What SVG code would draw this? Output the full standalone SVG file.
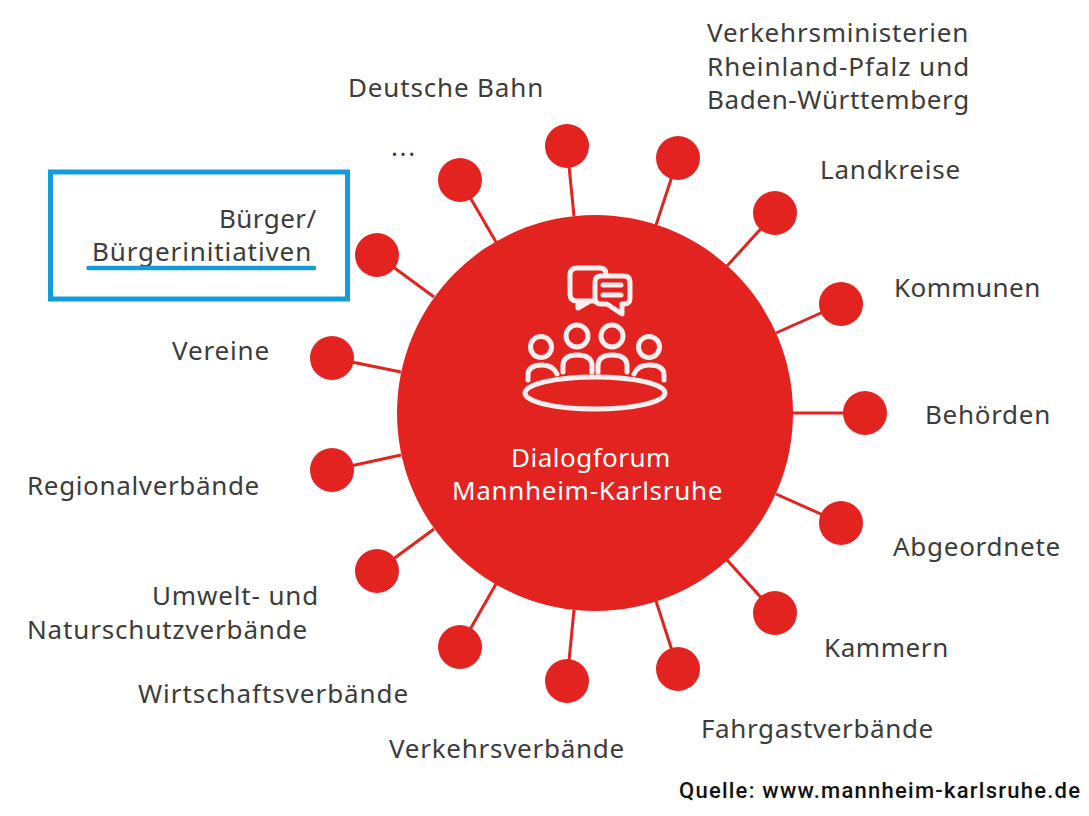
<svg xmlns="http://www.w3.org/2000/svg" width="1089" height="816" viewBox="0 0 1089 816">
<style>
.c{stroke:#e2231f;stroke-width:3;fill:none}
.s{fill:#e2231f}
.t{font-family:"Noto Sans","Liberation Sans",sans-serif;font-size:26px;fill:#3c3c3b;letter-spacing:.8px}
.w{font-family:"Noto Sans","Liberation Sans",sans-serif;font-size:26px;fill:#fff;letter-spacing:.6px}
.i{fill:none;stroke:#fbeeee;stroke-width:5;stroke-linejoin:round;stroke-linecap:round}
</style>
<rect width="1089" height="816" fill="#fff"/>
<g id="connectors">
<path class="c" d="M567 146L574 216M678 158L656 225M775 213L727 266M841 304L776 333M864 413L793 413M841 523L776 494M775 613L727 560M678 669L656 601M567 681L574 610M460 647L496 584M377 571L434 529M332 470L401 455M332 358L401 372M377 255L434 297M460 180L496 242"/>
</g>
<g id="hub">
<circle class="s" cx="595" cy="413" r="198"/>
<g id="icon">
<path class="i" d="M593 301H577Q570 301 570 294V275Q570 268 577 268H600Q606 268 606 274M578 301V308L590 301"/>
<path class="i" d="M601 276H624Q630 276 630 282V298Q630 304 624 304H622V314L607 304H601Q595 304 595 298V282Q595 276 601 276Z"/>
<path class="i" d="M603 285H621M603 295H621"/>
<circle class="i" cx="541" cy="347" r="10.500"/><circle class="i" cx="577" cy="336" r="11"/><circle class="i" cx="612" cy="336" r="11"/><circle class="i" cx="649" cy="347" r="10.500"/>
<path class="i" d="M528 380V375Q528 365 542 365Q553 365 557 374M563 372V366Q563 355 577 355Q592 355 592 366V372M598 372V366Q598 355 612 355Q627 355 627 366V372M634 374Q638 365 649 365Q664 365 664 375V380"/>
<ellipse class="i" cx="595" cy="393" rx="70" ry="16"/>
</g>
<text class="w" x="511" y="467" textLength="160">Dialogforum</text>
<text class="w" x="452" y="500" textLength="271">Mannheim-Karlsruhe</text>
</g>
<g id="n1"><circle class="s" cx="567" cy="146" r="22"/></g>
<g id="n2"><circle class="s" cx="678" cy="158" r="22"/><text class="t" x="707" y="42" textLength="262">Verkehrsministerien</text><text class="t" x="707" y="76" textLength="263">Rheinland-Pfalz und</text><text class="t" x="707" y="109" textLength="263">Baden-Württemberg</text></g>
<g id="n3"><circle class="s" cx="775" cy="213" r="22"/><text class="t" x="820" y="179" textLength="141">Landkreise</text></g>
<g id="n4"><circle class="s" cx="841" cy="304" r="22"/><text class="t" x="894" y="297" textLength="147">Kommunen</text></g>
<g id="n5"><circle class="s" cx="865" cy="413" r="22"/><text class="t" x="925" y="424" textLength="126">Behörden</text></g>
<g id="n6"><circle class="s" cx="841" cy="523" r="22"/><text class="t" x="893" y="556" textLength="168">Abgeordnete</text></g>
<g id="n7"><circle class="s" cx="775" cy="613" r="22"/><text class="t" x="824" y="657" textLength="125">Kammern</text></g>
<g id="n8"><circle class="s" cx="678" cy="669" r="22"/><text class="t" x="701" y="738" textLength="233">Fahrgastverbände</text></g>
<g id="n9"><circle class="s" cx="567" cy="681" r="22"/><text class="t" x="389" y="758" textLength="236">Verkehrsverbände</text></g>
<g id="n10"><circle class="s" cx="460" cy="647" r="22"/><text class="t" x="138" y="703" textLength="271">Wirtschaftsverbände</text></g>
<g id="n11"><circle class="s" cx="377" cy="571" r="22"/><text class="t" x="152" y="605" textLength="167">Umwelt- und</text><text class="t" x="27" y="639" textLength="281">Naturschutzverbände</text></g>
<g id="n12"><circle class="s" cx="332" cy="470" r="22"/><text class="t" x="27" y="495" textLength="233">Regionalverbände</text></g>
<g id="n13"><circle class="s" cx="332" cy="358" r="22"/><text class="t" x="172" y="360" textLength="98">Vereine</text></g>
<g id="n14"><circle class="s" cx="377" cy="255" r="22"/>
<rect x="50.500" y="172" width="297" height="127" fill="none" stroke="#149cd8" stroke-width="5"/>
<text class="t" x="219" y="228" textLength="98">Bürger/</text><text class="t" x="92" y="261" textLength="220">Bürgerinitiativen</text>
<path d="M88.500 268H314" stroke="#149cd8" stroke-width="4.500" stroke-linecap="round"/></g>
<g id="n15"><circle class="s" cx="460" cy="180" r="22"/><text class="t" x="391" y="156" textLength="25">...</text></g>
<text class="t" x="348" y="97" textLength="196">Deutsche Bahn</text>
<text x="679" y="798" textLength="401" style="font-family:Roboto,'Liberation Sans',sans-serif;font-size:22px;font-weight:500;fill:#111">Quelle: www.mannheim-karlsruhe.de</text>
</svg>
